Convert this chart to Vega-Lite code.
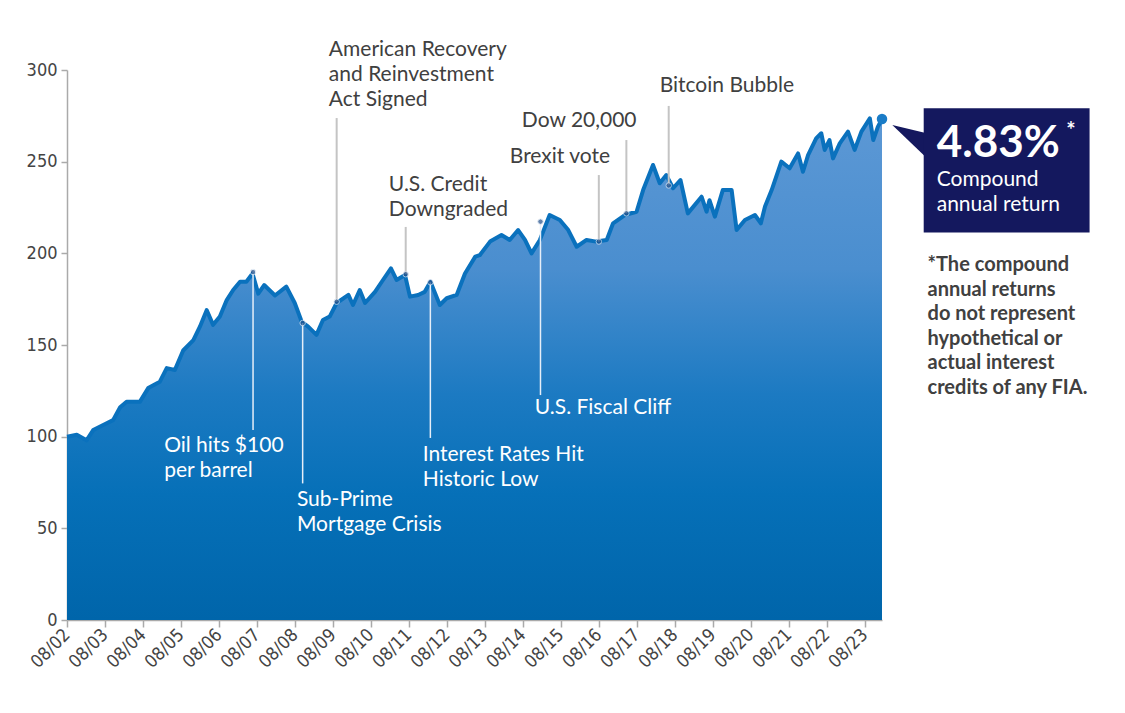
{
  "$schema": "https://vega.github.io/schema/vega-lite/v6.json",
  "width": 815,
  "height": 550,
  "autosize": {"type": "none"},
  "padding": {"left": 67, "top": 70, "right": 243, "bottom": 93},
  "background": "white",
  "config": {"view": {"stroke": null}},
  "datasets": {
    "series": [
      {"d":"2002-08-01","v":100},{"d":"2002-11-03","v":101},{"d":"2003-02-05","v":98},{"d":"2003-04-10","v":103.6},
      {"d":"2003-07-15","v":106.4},{"d":"2003-10-18","v":109},{"d":"2003-12-25","v":116},{"d":"2004-02-25","v":119},
      {"d":"2004-07-01","v":119},{"d":"2004-09-20","v":126.5},{"d":"2005-01-10","v":130},{"d":"2005-03-17","v":137.4},
      {"d":"2005-06-03","v":136.4},{"d":"2005-08-22","v":147},{"d":"2005-11-28","v":152.7},{"d":"2006-01-30","v":160},
      {"d":"2006-04-05","v":169},{"d":"2006-06-06","v":161},{"d":"2006-08-10","v":165.5},{"d":"2006-10-15","v":174.5},
      {"d":"2006-12-16","v":180},{"d":"2007-02-20","v":184.5},{"d":"2007-04-22","v":184.5},{"d":"2007-06-20","v":189},
      {"d":"2007-08-14","v":178},{"d":"2007-10-10","v":182.7},{"d":"2008-01-22","v":177},{"d":"2008-05-10","v":181.8},
      {"d":"2008-07-30","v":172.9},{"d":"2008-10-05","v":162.7},{"d":"2008-12-06","v":160},{"d":"2009-02-24","v":155.5},
      {"d":"2009-04-27","v":163.6},{"d":"2009-07-01","v":165.5},{"d":"2009-09-06","v":172.9},{"d":"2009-12-28","v":177.3},
      {"d":"2010-02-10","v":171.8},{"d":"2010-04-16","v":180},{"d":"2010-06-06","v":172.9},{"d":"2010-09-10","v":179},
      {"d":"2010-11-14","v":184.5},{"d":"2011-02-10","v":191.8},{"d":"2011-04-05","v":185.5},{"d":"2011-06-25","v":188.2},
      {"d":"2011-08-12","v":176.4},{"d":"2011-10-30","v":177.3},{"d":"2012-01-01","v":179},{"d":"2012-02-25","v":184.5},
      {"d":"2012-05-25","v":171.8},{"d":"2012-07-30","v":175.5},{"d":"2012-11-03","v":177.3},{"d":"2013-01-22","v":189},
      {"d":"2013-05-01","v":198.2},{"d":"2013-06-13","v":199},{"d":"2013-09-20","v":206.4},{"d":"2014-01-08","v":210},
      {"d":"2014-03-28","v":207.3},{"d":"2014-06-17","v":212.7},{"d":"2014-08-22","v":207.3},{"d":"2014-10-24","v":200},
      {"d":"2015-01-12","v":207.3},{"d":"2015-04-16","v":220.9},{"d":"2015-07-23","v":218.2},{"d":"2015-10-12","v":212.7},
      {"d":"2016-01-01","v":203.6},{"d":"2016-04-05","v":207.3},{"d":"2016-07-07","v":206.4},{"d":"2016-10-16","v":207.3},
      {"d":"2016-12-16","v":216.4},{"d":"2017-04-08","v":220.9},{"d":"2017-07-30","v":222.7},{"d":"2017-10-01","v":234.5},
      {"d":"2018-01-04","v":248.2},{"d":"2018-03-10","v":238.2},{"d":"2018-05-12","v":242.7},{"d":"2018-07-16","v":235.5},
      {"d":"2018-09-25","v":240},{"d":"2018-12-05","v":221.8},{"d":"2019-04-16","v":230.9},{"d":"2019-06-03","v":222.7},
      {"d":"2019-07-01","v":229},{"d":"2019-08-22","v":220},{"d":"2019-11-06","v":234.5},{"d":"2020-01-30","v":234.5},
      {"d":"2020-03-18","v":212.7},{"d":"2020-06-06","v":218.2},{"d":"2020-09-10","v":220.9},{"d":"2020-11-06","v":216.4},
      {"d":"2020-12-16","v":225.5},{"d":"2021-02-18","v":234.5},{"d":"2021-05-22","v":250},{"d":"2021-08-10","v":246.4},
      {"d":"2021-10-30","v":254.5},{"d":"2021-12-16","v":244.5},{"d":"2022-02-03","v":253.6},{"d":"2022-04-22","v":262.7},
      {"d":"2022-06-10","v":265.5},{"d":"2022-07-13","v":256.4},{"d":"2022-08-28","v":261.8},{"d":"2022-10-01","v":251.8},
      {"d":"2022-12-05","v":260},{"d":"2023-02-22","v":266.4},{"d":"2023-04-27","v":256.4},{"d":"2023-07-01","v":266.4},
      {"d":"2023-09-20","v":273.6},{"d":"2023-10-23","v":261.8},{"d":"2023-12-06","v":269},{"d":"2024-01-15","v":273.3}
    ],
    "events": [
      {"d":"2007-06-25","v":189.8,"end":103.6,"side":"below"},
      {"d":"2008-10-14","v":162,"end":74.5,"side":"below"},
      {"d":"2009-09-06","v":173.6,"end":273.8,"side":"above"},
      {"d":"2011-07-02","v":188.6,"end":214.4,"side":"above"},
      {"d":"2012-02-24","v":184.2,"end":99.3,"side":"below"},
      {"d":"2015-01-18","v":217.3,"end":122.7,"side":"below"},
      {"d":"2016-08-01","v":206.4,"end":242.7,"side":"above"},
      {"d":"2017-04-23","v":221.8,"end":261.8,"side":"above"},
      {"d":"2018-06-04","v":237,"end":280.4,"side":"above"}
    ],
    "labels": [
      {"d":"2005-02-20","v":94.9,"t":"Oil hits $100\nper barrel","side":"below"},
      {"d":"2008-08-20","v":65.5,"t":"Sub-Prime\nMortgage Crisis","side":"below"},
      {"d":"2011-12-13","v":90,"t":"Interest Rates Hit\nHistoric Low","side":"below"},
      {"d":"2014-11-24","v":115.6,"t":"U.S. Fiscal Cliff","side":"below"},
      {"d":"2009-06-23","v":310.9,"t":"American Recovery\nand Reinvestment\nAct Signed","side":"above"},
      {"d":"2011-01-21","v":237.3,"t":"U.S. Credit\nDowngraded","side":"above"},
      {"d":"2014-03-29","v":252.5,"t":"Brexit vote","side":"above"},
      {"d":"2014-07-23","v":272.2,"t":"Dow 20,000","side":"above"},
      {"d":"2018-03-09","v":291.3,"t":"Bitcoin Bubble","side":"above"}
    ],
    "box": [{"d":"2025-02-19","d2":"2029-07-03","v":279.1,"v2":211.3}],
    "pointer": [{"d":"2024-04-23","v":270,"v2":270},{"d":"2025-03-10","v":265.6,"v2":252.5}],
    "last": [{"d":"2024-01-15","v":273.3}],
    "big": [{"d":"2025-06-24","v":259.9,"t":"4.83%"}],
    "star": [{"d":"2028-11-20","v":266.5,"t":"*"}],
    "sub": [{"d":"2025-06-24","v":240,"t":"Compound\nannual return"}],
    "note": [{"d":"2025-03-28","v":193.6,"t":"*The compound\nannual returns\ndo not represent\nhypothetical or\nactual interest\ncredits of any FIA."}]
  },
  "encoding": {
    "x": {
      "field": "d", "type": "temporal",
      "scale": {"type": "utc", "domain": [{"year":2002,"month":8,"date":1,"utc":true},{"year":2024,"month":1,"date":15,"utc":true}]},
      "axis": {
        "title": null, "format": "%m/%y", "grid": false,
        "values": [
          {"year":2002,"month":8,"date":1,"utc":true},{"year":2003,"month":8,"date":1,"utc":true},{"year":2004,"month":8,"date":1,"utc":true},
          {"year":2005,"month":8,"date":1,"utc":true},{"year":2006,"month":8,"date":1,"utc":true},{"year":2007,"month":8,"date":1,"utc":true},
          {"year":2008,"month":8,"date":1,"utc":true},{"year":2009,"month":8,"date":1,"utc":true},{"year":2010,"month":8,"date":1,"utc":true},
          {"year":2011,"month":8,"date":1,"utc":true},{"year":2012,"month":8,"date":1,"utc":true},{"year":2013,"month":8,"date":1,"utc":true},
          {"year":2014,"month":8,"date":1,"utc":true},{"year":2015,"month":8,"date":1,"utc":true},{"year":2016,"month":8,"date":1,"utc":true},
          {"year":2017,"month":8,"date":1,"utc":true},{"year":2018,"month":8,"date":1,"utc":true},{"year":2019,"month":8,"date":1,"utc":true},
          {"year":2020,"month":8,"date":1,"utc":true},{"year":2021,"month":8,"date":1,"utc":true},{"year":2022,"month":8,"date":1,"utc":true},
          {"year":2023,"month":8,"date":1,"utc":true}
        ],
        "labelAngle": -45, "labelAlign": "right", "labelBaseline": "middle",
        "labelFont": "DejaVu Sans Condensed, Roboto, sans-serif", "labelFontSize": 18, "labelColor": "#444444",
        "labelPadding": 5, "labelOverlap": false, "labelFlush": false,
        "domainColor": "#aaaaaa", "domainWidth": 1.5, "tickColor": "#aaaaaa", "tickWidth": 1.5, "tickSize": 7
      }
    },
    "y": {
      "field": "v", "type": "quantitative",
      "scale": {"domain": [0, 300], "nice": false, "zero": false},
      "axis": {
        "title": null, "grid": false, "values": [0,50,100,150,200,250,300],
        "labelFont": "DejaVu Sans Condensed, Roboto, sans-serif", "labelFontSize": 18, "labelColor": "#444444",
        "labelPadding": 4, "labelFlush": false,
        "domainColor": "#aaaaaa", "domainWidth": 1.5, "tickColor": "#aaaaaa", "tickWidth": 1.5, "tickSize": 6
      }
    }
  },
  "layer": [
    {
      "data": {"name": "series"},
      "mark": {"type": "area", "fill": {"gradient": "linear", "x1": 0, "y1": 0, "x2": 0, "y2": 1,
        "stops": [{"offset": 0, "color": "#5c98d5"}, {"offset": 0.3, "color": "#4a8ecf"}, {"offset": 0.55, "color": "#1c7ac2"}, {"offset": 0.75, "color": "#0670b8"}, {"offset": 1, "color": "#0065aa"}]}}
    },
    {
      "data": {"name": "series"},
      "mark": {"type": "line", "color": "#0a71bd", "strokeWidth": 4, "strokeJoin": "round"}
    },
    {
      "data": {"name": "events"},
      "transform": [{"filter": "datum.side === 'below'"}],
      "mark": {"type": "rule", "color": "#e6eef8", "strokeWidth": 1.5},
      "encoding": {"y2": {"field": "end"}}
    },
    {
      "data": {"name": "events"},
      "transform": [{"filter": "datum.side === 'above'"}],
      "mark": {"type": "rule", "color": "#c4c4c4", "strokeWidth": 2},
      "encoding": {"y2": {"field": "end"}}
    },
    {
      "data": {"name": "events"},
      "mark": {"type": "point", "filled": true, "size": 30, "color": "#23508a", "stroke": "#dfe9f5", "strokeWidth": 1}
    },
    {
      "data": {"name": "labels"},
      "transform": [{"filter": "datum.side === 'below'"}],
      "mark": {"type": "text", "align": "left", "baseline": "middle", "font": "Lato", "fontSize": 21, "letterSpacing": 0.2, "lineHeight": 25, "lineBreak": "\n", "color": "white"},
      "encoding": {"text": {"field": "t"}}
    },
    {
      "data": {"name": "labels"},
      "transform": [{"filter": "datum.side === 'above'"}],
      "mark": {"type": "text", "align": "left", "baseline": "middle", "font": "Lato", "fontSize": 21, "letterSpacing": 0.2, "lineHeight": 25, "lineBreak": "\n", "color": "#404040"},
      "encoding": {"text": {"field": "t"}}
    },
    {
      "data": {"name": "last"},
      "mark": {"type": "point", "filled": true, "size": 110, "color": "#1a7cc7", "opacity": 1}
    },
    {
      "data": {"name": "pointer"},
      "mark": {"type": "area", "color": "#14185e", "opacity": 1},
      "encoding": {"y2": {"field": "v2"}}
    },
    {
      "data": {"name": "box"},
      "mark": {"type": "rect", "color": "#14185e", "opacity": 1},
      "encoding": {"x2": {"field": "d2"}, "y2": {"field": "v2"}}
    },
    {
      "data": {"name": "big"},
      "mark": {"type": "text", "align": "left", "baseline": "middle", "font": "Lato", "fontWeight": "bold", "fontSize": 44, "color": "white"},
      "encoding": {"text": {"field": "t"}}
    },
    {
      "data": {"name": "star"},
      "mark": {"type": "text", "align": "left", "baseline": "middle", "font": "Lato", "fontWeight": "bold", "fontSize": 22, "color": "white"},
      "encoding": {"text": {"field": "t"}}
    },
    {
      "data": {"name": "sub"},
      "mark": {"type": "text", "align": "left", "baseline": "middle", "font": "Lato", "fontSize": 21, "letterSpacing": 0.5, "lineHeight": 24.5, "lineBreak": "\n", "color": "white"},
      "encoding": {"text": {"field": "t"}}
    },
    {
      "data": {"name": "note"},
      "mark": {"type": "text", "align": "left", "baseline": "middle", "font": "Lato", "fontWeight": "bold", "fontSize": 20, "letterSpacing": 0.4, "lineHeight": 24.5, "lineBreak": "\n", "color": "#404040"},
      "encoding": {"text": {"field": "t"}}
    }
  ]
}
